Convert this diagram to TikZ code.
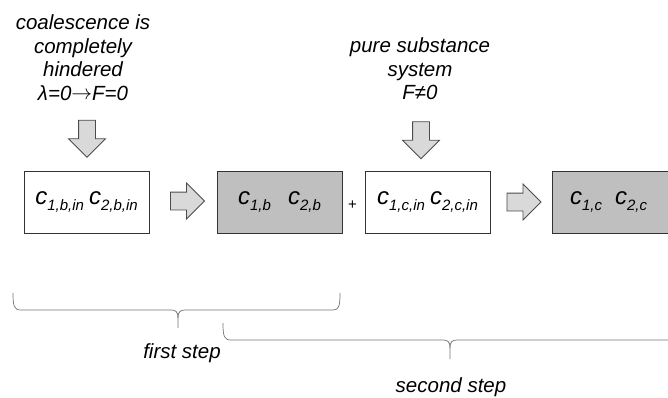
\documentclass[tikz,border=0pt]{standalone}
\usepackage{fontspec}
\setmainfont{Liberation Sans}
\usetikzlibrary{shapes.arrows}
\newcommand\csub[2]{#1\raisebox{-0.28em}{\fontsize{15}{15}\selectfont #2}}
\tikzset{
  lbl/.style={font=\fontsize{20.5}{23.5}\selectfont\itshape, align=center, inner sep=0pt},
  boxw/.style={draw=black!80, line width=0.9pt, fill=white, minimum width=125pt, minimum height=62pt, inner sep=0pt, font=\fontsize{24}{24}\selectfont\itshape},
  boxg/.style={boxw, fill=black!25},
  blockarrow/.style={single arrow, draw=black!70, fill=black!15, line width=0.8pt, inner sep=8.5pt, minimum width=35pt, single arrow head extend=9pt, minimum height=34pt},
  downarrow/.style={blockarrow, shape border rotate=270, minimum height=37pt, minimum width=36pt, inner sep=8pt, single arrow head extend=10pt},
  bracepath/.style={draw=black!55, line width=0.7pt}
}
\begin{document}
\begin{tikzpicture}[x=1pt,y=-1pt]
\useasboundingbox (0,0) rectangle (668,398);
\clip (0,0) rectangle (668,398);
% texts
\node[lbl] (t1) at (83,57.5) {coalescence is\\completely\\hindered\\λ=0\raisebox{0.05em}{$\rightarrow$}F=0};
\node[lbl] (t2) at (420,69) {pure substance\\system\\F≠0};
% down arrows
\node[downarrow] (d1) at (87,134.5) {};
\node[downarrow] (d2) at (421,136) {};
% boxes
\node[boxw] (b1) at (86.5,202) {\csub{c}{1,b,in}\hspace{5pt}\csub{c}{2,b,in}};
\node[boxg] (b2) at (279.5,202) {\csub{c}{1,b}\hspace{17pt}\csub{c}{2,b}};
\node[boxw] (b3) at (427.5,202) {\csub{c}{1,c,in}\hspace{5pt}\csub{c}{2,c,in}};
\node[boxg] (b4) at (614.5,202) {\hspace*{-12pt}\csub{c}{1,c}\hspace{13pt}\csub{c}{2,c}};
% right arrows
\node[blockarrow] (r1) at (183,201) {};
\node[blockarrow] (r2) at (519.5,202) {};
% plus
\node[font=\fontsize{15}{15}\selectfont, inner sep=0pt] (plus) at (352.5,205) {+};
% braces
\coordinate (br1l) at (13,293);
\coordinate (br1r) at (340,293);
\coordinate (br1t) at (178,328);
\draw[bracepath] (br1l) .. controls (13,306) and (14,310) .. (21,310) -- (171,310)
  .. controls (176,310) and (178,312) .. (178,318) -- (br1t);
\draw[bracepath] (178,318) .. controls (178,312) and (180,310) .. (185,310) -- (333,310)
  .. controls (339,310) and (340,306) .. (br1r);
\coordinate (br2l) at (223,323);
\coordinate (br2t) at (450,359);
\draw[bracepath] (br2l) .. controls (223,336) and (224,340) .. (231,340) -- (443,340)
  .. controls (448,340) and (450,342) .. (450,348) -- (br2t);
\draw[bracepath] (450,348) .. controls (450,342) and (452,340) .. (457,340) -- (680,340);
\node[lbl] (s1) at (182,353) {first step};
\node[lbl] (s2) at (451,387) {second step};
\end{tikzpicture}
\end{document}
